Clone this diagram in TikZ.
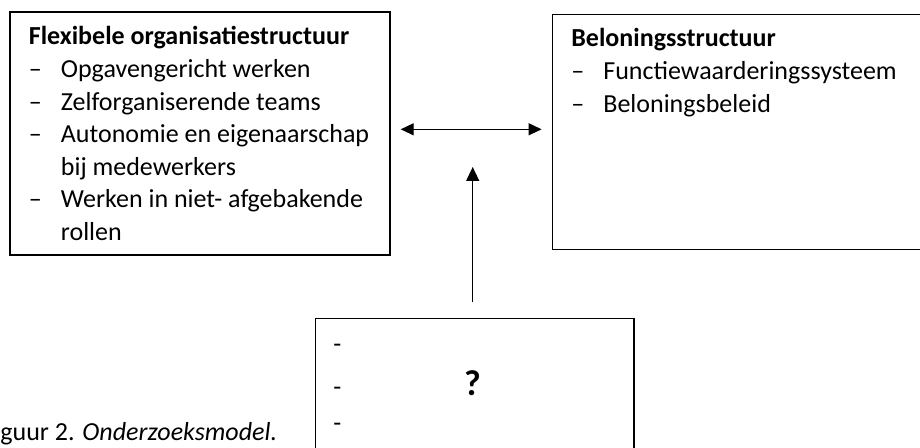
\documentclass[tikz,border=0pt]{standalone}
\usepackage{fontspec}
\setmainfont{Carlito}
\usetikzlibrary{arrows.meta}

\newcommand{\dashitem}[1]{\makebox[16pt][l]{–}#1}
\newcommand{\dashcont}[1]{\hspace*{16pt}#1}

\begin{document}
\begin{tikzpicture}[x=0.5pt,y=-0.5pt]
    \tikzstyle{box}=[rectangle,draw,line width=0.7pt,inner sep=0pt]  % kaders
    \tikzstyle{list}=[inner sep=0pt,anchor=base west,font=\fontsize{13}{16.3}\selectfont]  % tekst in de kaders
    \tikzstyle{arr}=[line width=0.65pt,-{Triangle[length=7pt,width=6.5pt]}]
    \tikzstyle{dbl}=[line width=0.65pt,{Triangle[length=6.5pt,width=6pt]}-{Triangle[length=6.5pt,width=6pt]}]

    \useasboundingbox (0,0) rectangle (920,448);
    \clip (0,0) rectangle (920,448);

    % kaders
    \node[box,minimum width=190pt,minimum height=121.5pt](flex) at (200,133.5){};
    \node[box,minimum width=193.65pt,minimum height=117.5pt](reward) at (746.35,131.75){};
    \node[box,minimum width=159.35pt,minimum height=75.65pt](qbox) at (474.65,394.35){};

    % tekst (tabular[t]: basislijn = eerste regel)
    \node[list](flextext) at (28.5,45){\begin{tabular}[t]{@{}l@{}}
        \textbf{Flexibele organisatiestructuur}\\
        \dashitem{Opgavengericht werken}\\
        \dashitem{Zelforganiserende teams}\\
        \dashitem{Autonomie en eigenaarschap}\\
        \dashcont{bij medewerkers}\\
        \dashitem{Werken in niet- afgebakende}\\
        \dashcont{rollen}
    \end{tabular}};
    \node[list](rewardtext) at (571,47){\begin{tabular}[t]{@{}l@{}}
        \textbf{Beloningsstructuur}\\
        \dashitem{Functiewaarderingssysteem}\\
        \dashitem{Beloningsbeleid}
    \end{tabular}};
    \node[list](qd1) at (333,352){-};
    \node[list](qd2) at (333,395){-};
    \node[list](qd3) at (333,431){-};
    \node[font=\fontsize{18}{20}\selectfont\bfseries,inner sep=0pt](qmark) at (472.5,383.5){?};
    \node[list](caption) at (0,440){guur 2. \textit{Onderzoeksmodel.}};

    % pijlen
    \coordinate(mid) at (471,129.3);
    \coordinate(uptip) at (472.7,167);
    \draw[dbl,shorten <=5pt,shorten >=5.2pt](flex.east |- mid) -- (reward.west |- mid);
    \draw[arr,shorten <=7.8pt](qbox.north -| uptip) -- (uptip);
\end{tikzpicture}
\end{document}
